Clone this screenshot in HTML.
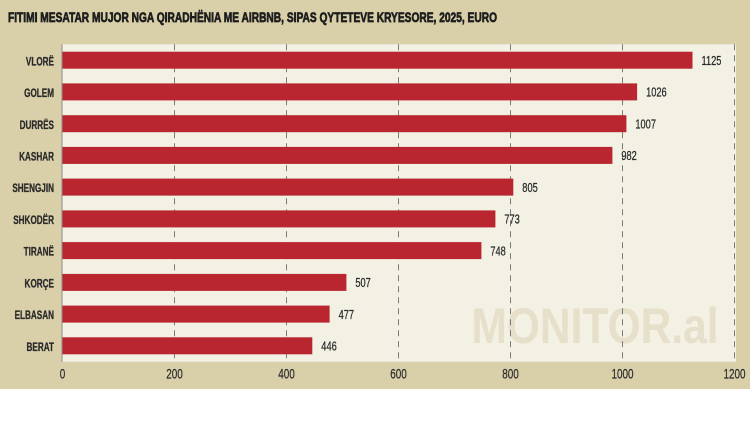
<!DOCTYPE html>
<html><head><meta charset="utf-8"><style>
html,body{margin:0;padding:0;background:#fff;}
svg{display:block;}
</style></head><body>
<svg width="750" height="438" viewBox="0 0 750 438" xmlns="http://www.w3.org/2000/svg" font-family="Liberation Sans, sans-serif">
<rect x="0" y="0" width="750" height="389" fill="#d9d0aa"/>
<rect x="62" y="44.3" width="674" height="317.4" fill="#f3f0e4"/>
<text x="471.5" y="343" font-size="50" font-weight="bold" fill="#e6dfca" textLength="247" lengthAdjust="spacingAndGlyphs">MONITOR.al</text>
<g stroke="#7a7a7a" stroke-width="1" stroke-dasharray="6,5">
<line x1="174.5" y1="44.3" x2="174.5" y2="361.7"/>
<line x1="286.5" y1="44.3" x2="286.5" y2="361.7"/>
<line x1="398.5" y1="44.3" x2="398.5" y2="361.7"/>
<line x1="510.5" y1="44.3" x2="510.5" y2="361.7"/>
<line x1="622.5" y1="44.3" x2="622.5" y2="361.7"/>
<line x1="734.5" y1="44.3" x2="734.5" y2="361.7"/>
</g>
<line x1="62" y1="44.3" x2="62" y2="362" stroke="#8a8a8a" stroke-width="1"/>
<g fill="#b9262f">
<rect x="62.5" y="51.7" width="630" height="17"/>
<rect x="62.5" y="83.4" width="574.6" height="17"/>
<rect x="62.5" y="115.2" width="563.9" height="17"/>
<rect x="62.5" y="146.9" width="549.9" height="17"/>
<rect x="62.5" y="178.6" width="450.8" height="17"/>
<rect x="62.5" y="210.4" width="432.9" height="17"/>
<rect x="62.5" y="242.1" width="418.9" height="17"/>
<rect x="62.5" y="273.9" width="283.9" height="17"/>
<rect x="62.5" y="305.6" width="267.1" height="17"/>
<rect x="62.5" y="337.3" width="249.8" height="17"/>
</g>
<text x="8" y="22" font-size="13.5" font-weight="bold" fill="#1e1e1e" stroke="#1e1e1e" stroke-width="0.7" textLength="489" lengthAdjust="spacingAndGlyphs">FITIMI MESATAR MUJOR NGA QIRADHËNIA ME AIRBNB, SIPAS QYTETEVE KRYESORE, 2025, EURO</text>
<g font-size="12" font-weight="bold" fill="#2a2a2a" stroke="#2a2a2a" stroke-width="0.3" text-anchor="end">
<text transform="translate(54,65.3) scale(0.68,1)">VLORË</text>
<text transform="translate(54,97) scale(0.68,1)">GOLEM</text>
<text transform="translate(54,128.8) scale(0.68,1)">DURRËS</text>
<text transform="translate(54,160.5) scale(0.68,1)">KASHAR</text>
<text transform="translate(54,192.2) scale(0.68,1)">SHENGJIN</text>
<text transform="translate(54,224) scale(0.68,1)">SHKODËR</text>
<text transform="translate(54,255.7) scale(0.68,1)">TIRANË</text>
<text transform="translate(54,287.5) scale(0.68,1)">KORÇE</text>
<text transform="translate(54,319.2) scale(0.68,1)">ELBASAN</text>
<text transform="translate(54,350.9) scale(0.68,1)">BERAT</text>
</g>
<g font-size="12.5" fill="#2a2a2a" stroke="#2a2a2a" stroke-width="0.25">
<text transform="translate(701.5,65) scale(0.74,1)">1125</text>
<text transform="translate(646.1,96.7) scale(0.74,1)">1026</text>
<text transform="translate(635.4,128.5) scale(0.74,1)">1007</text>
<text transform="translate(621.4,160.2) scale(0.74,1)">982</text>
<text transform="translate(522.3,191.9) scale(0.74,1)">805</text>
<text transform="translate(504.4,223.7) scale(0.74,1)">773</text>
<text transform="translate(490.4,255.4) scale(0.74,1)">748</text>
<text transform="translate(355.4,287.2) scale(0.74,1)">507</text>
<text transform="translate(338.6,318.9) scale(0.74,1)">477</text>
<text transform="translate(321.3,350.6) scale(0.74,1)">446</text>
</g>
<g font-size="14" fill="#2a2a2a" stroke="#2a2a2a" stroke-width="0.2" text-anchor="middle">
<text transform="translate(62.5,378.5) scale(0.71,1)">0</text>
<text transform="translate(174.5,378.5) scale(0.71,1)">200</text>
<text transform="translate(286.5,378.5) scale(0.71,1)">400</text>
<text transform="translate(398.5,378.5) scale(0.71,1)">600</text>
<text transform="translate(510.5,378.5) scale(0.71,1)">800</text>
<text transform="translate(622.5,378.5) scale(0.71,1)">1000</text>
<text transform="translate(734.5,378.5) scale(0.71,1)">1200</text>
</g>
</svg>
</body></html>
